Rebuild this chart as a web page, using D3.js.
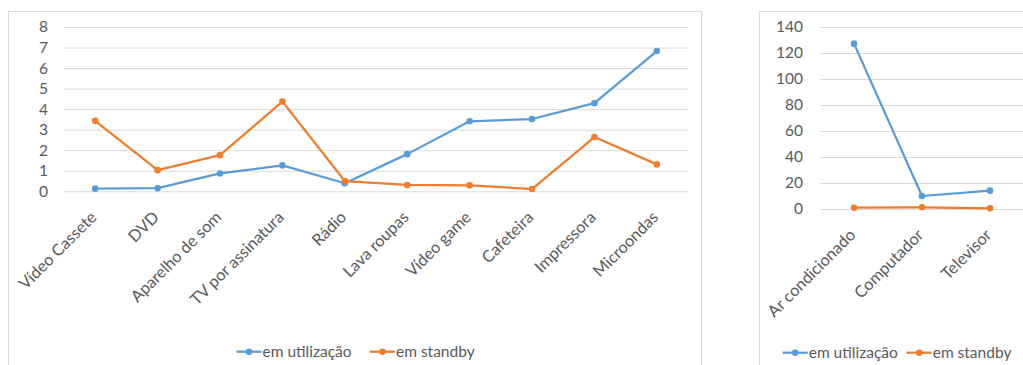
<!DOCTYPE html>
<html>
<head>
<meta charset="utf-8">
<script src="https://cdn.jsdelivr.net/npm/d3@7"></script>
<style>
  html, body { margin: 0; padding: 0; background: #fff; }
  svg { display: block; }
  text { font-family: Lato, "Open Sans", sans-serif; fill: #595959; }
</style>
</head>
<body>
<svg id="chart" width="1023" height="365"></svg>
<script>
// Consumo por aparelho: em utilização x em standby
const seriesNames = ["em utilização", "em standby"];
const seriesColors = ["#5B9BD5", "#ED7D31"];

// Aparelhos de menor consumo
const smallCategories = ["Vídeo Cassete", "DVD", "Aparelho de som", "TV por assinatura", "Rádio",
                         "Lava roupas", "Vídeo game", "Cafeteira", "Impressora", "Microondas"];
const smallUse     = [0.13, 0.15, 0.87, 1.26, 0.39, 1.81, 3.41, 3.52, 4.29, 6.83];
const smallStandby = [3.43, 1.03, 1.76, 4.37, 0.50, 0.31, 0.29, 0.11, 2.64, 1.31];
const smallTicks   = [0, 1, 2, 3, 4, 5, 6, 7, 8];

// Aparelhos de maior consumo
const bigCategories = ["Ar condicionado", "Computador", "Televisor"];
const bigUse        = [127.2, 10.0, 14.1];
const bigStandby    = [1.0, 1.3, 0.5];
const bigTicks      = [0, 20, 40, 60, 80, 100, 120, 140];

const svg = d3.select("#chart");
const TICK_FONT = 15.5;
const CAT_FONT = 16.3;
const LEGEND_FONT = 15.5;

function drawPanel(opt) {
  const g = svg.append("g");

  // chart frame
  g.append("rect")
    .attr("x", opt.frame[0] + 0.5).attr("y", opt.frame[1] + 0.5)
    .attr("width", opt.frame[2]).attr("height", opt.frame[3])
    .attr("fill", "none").attr("stroke", "#D9D9D9").attr("stroke-width", 1);

  const x = d3.scaleBand().domain(opt.categories).range([opt.left, opt.right]);
  const y = d3.scaleLinear().domain([opt.ticks[0], opt.ticks[opt.ticks.length - 1]])
    .range([opt.bottom, opt.top]);

  // horizontal gridlines + value labels
  const yAxis = d3.axisLeft(y).tickValues(opt.ticks)
    .tickSize(-(opt.right - opt.left)).tickPadding(opt.left - opt.labelRight)
    .tickFormat(d3.format("d"));
  const ya = g.append("g").attr("transform", `translate(${opt.left},0)`).call(yAxis);
  ya.select(".domain").remove();
  ya.selectAll(".tick line").attr("stroke", "#D9D9D9").attr("stroke-width", 1);
  ya.selectAll(".tick text").attr("font-size", TICK_FONT).attr("fill", "#595959")
    .attr("font-family", "Lato, 'Open Sans', sans-serif");

  // rotated category labels
  g.selectAll("text.cat").data(opt.categories).enter().append("text")
    .attr("class", "cat")
    .attr("font-size", CAT_FONT)
    .attr("text-anchor", "end")
    .attr("transform", d => `translate(${x(d) + x.bandwidth() / 2 + 2.5},${opt.bottom + 27}) rotate(-45)`)
    .text(d => d);

  // series lines and markers
  const line = d3.line()
    .x((d, i) => x(opt.categories[i]) + x.bandwidth() / 2)
    .y(d => y(d));
  opt.series.forEach((vals, si) => {
    g.append("path").datum(vals)
      .attr("d", line)
      .attr("fill", "none")
      .attr("stroke", seriesColors[si])
      .attr("stroke-width", 2.25)
      .attr("stroke-linejoin", "round");
    g.selectAll(null).data(vals).enter().append("circle")
      .attr("cx", (d, i) => x(opt.categories[i]) + x.bandwidth() / 2)
      .attr("cy", d => y(d))
      .attr("r", 3.3)
      .attr("fill", seriesColors[si]);
  });

  // legend
  const lg = g.append("g").attr("transform", `translate(0,${opt.legendY})`);
  seriesNames.forEach((name, si) => {
    const item = lg.append("g").attr("transform", `translate(${opt.legendX[si]},0)`);
    item.append("line").attr("x1", 0).attr("x2", 25).attr("y1", 0).attr("y2", 0)
      .attr("stroke", seriesColors[si]).attr("stroke-width", 2.25);
    item.append("circle").attr("cx", 12.5).attr("cy", 0).attr("r", 3.3).attr("fill", seriesColors[si]);
    item.append("text").attr("x", 26).attr("y", 0).attr("dy", "0.35em")
      .attr("font-size", LEGEND_FONT).text(name);
  });
}

drawPanel({
  frame: [8, 11, 693, 400],
  left: 64, right: 688, top: 27, bottom: 191.3, labelRight: 48,
  categories: smallCategories, series: [smallUse, smallStandby], ticks: smallTicks,
  legendX: [236.5, 370], legendY: 351.7
});

drawPanel({
  frame: [759, 11, 300, 400],
  left: 820, right: 1024, top: 27, bottom: 209, labelRight: 803,
  categories: bigCategories, series: [bigUse, bigStandby], ticks: bigTicks,
  legendX: [782.7, 906.7], legendY: 352.7
});
</script>
</body>
</html>
